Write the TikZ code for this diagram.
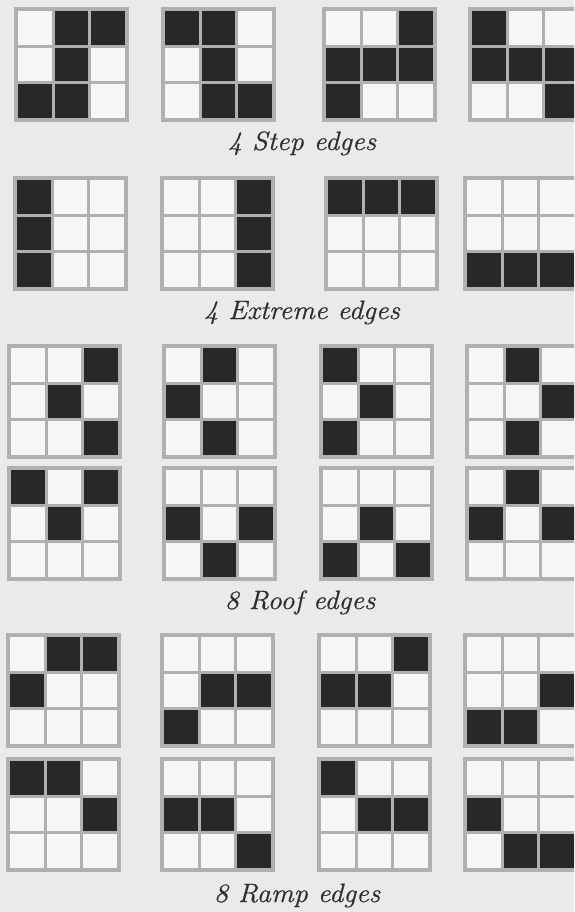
\documentclass[tikz,border=0pt]{standalone}
\usepackage{fontspec}
\newfontfamily\capfont{Latin Modern Roman}[FakeBold=0.6]
\definecolor{pagebg}{RGB}{234,234,232}
\definecolor{cellw}{RGB}{246,246,245}
\definecolor{gridg}{RGB}{176,176,176}
\definecolor{cellk}{RGB}{40,40,40}
\tikzset{edgecap/.style={font=\capfont\fontsize{26.5}{30}\selectfont\itshape,text=black!82,anchor=base,inner sep=0pt,xscale=1.07}}
% one 3x3 mask: top-left corner, list of black cells col/row
\newcommand{\edgegrid}[3]{%
  \fill[gridg] (#1,#2) rectangle ++(115,115);
  \foreach \c in {1,2,3} \foreach \r in {1,2,3}
    \fill[cellw] ({#1+4+(\c-1)*36.67},{#2+4+(\r-1)*36.67}) rectangle ++(33.67,33.67);
  \foreach \c/\r in {#3}
    \fill[cellk] ({#1+4+(\c-1)*36.67},{#2+4+(\r-1)*36.67}) rectangle ++(33.67,33.67);
}

\begin{document}
\begin{tikzpicture}[x=1pt,y=-1pt]
    \useasboundingbox (0,0) rectangle (574,912);
    \clip (0,0) rectangle (574,912);
    \fill[pagebg] (0,0) rectangle (574,912);
    % step
    \edgegrid{14}{7}{2/1,3/1,2/2,1/3,2/3}
    \edgegrid{161}{7}{1/1,2/1,2/2,2/3,3/3}
    \edgegrid{322}{7}{3/1,1/2,2/2,3/2,1/3}
    \edgegrid{468}{7}{1/1,1/2,2/2,3/2,3/3}
    \node[edgecap] (capstep) at (302,150) {4 Step edges};
    % extreme
    \edgegrid{13}{176}{1/1,1/2,1/3}
    \edgegrid{160}{176}{3/1,3/2,3/3}
    \edgegrid{324}{176}{1/1,2/1,3/1}
    \edgegrid{463}{176}{1/3,2/3,3/3}
    \node[edgecap] (capext) at (302,319) {4 Extreme edges};
    % roof
    \edgegrid{7}{344}{3/1,2/2,3/3}
    \edgegrid{162}{344}{2/1,1/2,2/3}
    \edgegrid{319}{344}{1/1,2/2,1/3}
    \edgegrid{465}{344}{2/1,3/2,2/3}
    \edgegrid{7}{466}{1/1,3/1,2/2}
    \edgegrid{162}{466}{1/2,3/2,2/3}
    \edgegrid{319}{466}{2/2,1/3,3/3}
    \edgegrid{465}{466}{2/1,1/2,3/2}
    \node[edgecap] (caproof) at (300,609) {8 Roof edges};
    % ramp
    \edgegrid{6}{633}{2/1,3/1,1/2}
    \edgegrid{160}{633}{2/2,3/2,1/3}
    \edgegrid{317}{633}{3/1,1/2,2/2}
    \edgegrid{463}{633}{3/2,1/3,2/3}
    \edgegrid{6}{757}{1/1,2/1,3/2}
    \edgegrid{160}{757}{1/2,2/2,3/3}
    \edgegrid{317}{757}{1/1,2/2,3/2}
    \edgegrid{463}{757}{1/2,2/3,3/3}
    \node[edgecap] (capramp) at (297,902) {8 Ramp edges};
\end{tikzpicture}
\end{document}
